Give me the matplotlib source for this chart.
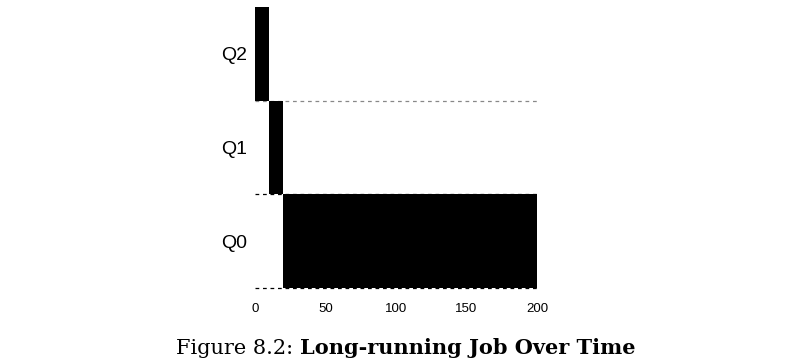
import matplotlib.pyplot as plt

colas = ["Q0", "Q1", "Q2"]          # niveles de prioridad
inicio = [20, 10, 0]                # instante en que el trabajo entra en cada cola
duracion = [180, 10, 10]            # tiempo que pasa en cada cola
ticks_x = [0, 50, 100, 150, 200]

fig = plt.figure(figsize=(7.9, 3.64), dpi=100)
ax = fig.add_axes([0.3228, 0.2088, 0.357, 0.772])

# lineas discontinuas en los limites de cada cola
colores_linea = ["black", "black", "#888888"]
for nivel in range(len(colas)):
    ax.plot([0, 200], [nivel, nivel], linestyle=(0, (3, 3)), linewidth=0.9,
            color=colores_linea[nivel], zorder=1 if nivel else 3, clip_on=False)

ax.barh(range(len(colas)), duracion, left=inicio, height=1.0, align="edge",
        color="black", zorder=2)

ax.set_xlim(0, 200)
ax.set_ylim(0, 3)
ax.set_xticks(ticks_x)
ax.set_xticklabels([str(t) for t in ticks_x], family="Liberation Sans", fontsize=9.5)
ax.set_yticks([0.5, 1.5, 2.5])
ax.set_yticklabels(colas, family="Liberation Sans", fontsize=14)
ax.tick_params(axis="x", length=0, pad=11)
ax.tick_params(axis="y", length=0, pad=6)
for lado in ax.spines.values():
    lado.set_visible(False)

# pie de figura: parte normal + parte en negrita, centrado como conjunto
t1 = fig.text(0, 0.028, "Figure 8.2: ", ha="left", va="baseline",
              family="DejaVu Serif", fontsize=15)
t2 = fig.text(0, 0.028, "Long-running Job Over Time", ha="left", va="baseline",
              family="DejaVu Serif", fontsize=15, weight="bold")
fig.canvas.draw()
w1 = t1.get_window_extent().width
w2 = t2.get_window_extent().width
x0 = 406 - (w1 + w2) / 2
t1.set_x(x0 / fig.bbox.width)
t2.set_x((x0 + w1) / fig.bbox.width)

fig.savefig("out.png", dpi=100)
